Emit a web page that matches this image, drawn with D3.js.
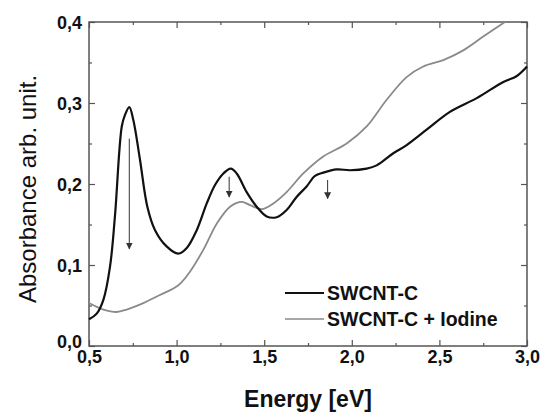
<!DOCTYPE html>
<html>
<head>
<meta charset="utf-8">
<script src="https://cdn.jsdelivr.net/npm/d3@7"></script>
<style>
  body { margin: 0; background: #fff; }
  svg { font-family: "Liberation Sans", Arial, sans-serif; }
</style>
</head>
<body>
<script>
const width = 542,
    height = 412;

// energy (eV) / absorbance
const energyC = [0.5, 0.544, 0.582, 0.62, 0.648, 0.687, 0.705, 0.73, 0.753, 0.791, 0.833, 0.877, 0.943, 1.01, 1.058, 1.115, 1.172, 1.22, 1.267, 1.309, 1.343, 1.40, 1.457, 1.514, 1.571, 1.628, 1.685, 1.742, 1.79, 1.837, 1.914, 1.99, 2.085, 2.142, 2.237, 2.313, 2.427, 2.56, 2.713, 2.865, 2.94, 3.0];
const absC = [0.033, 0.040, 0.057, 0.098, 0.160, 0.271, 0.285, 0.295, 0.279, 0.230, 0.172, 0.143, 0.123, 0.114, 0.121, 0.143, 0.176, 0.199, 0.213, 0.219, 0.213, 0.190, 0.172, 0.160, 0.159, 0.168, 0.184, 0.197, 0.210, 0.214, 0.218, 0.217, 0.219, 0.223, 0.238, 0.248, 0.267, 0.289, 0.306, 0.326, 0.333, 0.345];

const energyI = [0.5, 0.582, 0.658, 0.715, 0.81, 0.905, 1.01, 1.077, 1.153, 1.229, 1.305, 1.372, 1.419, 1.486, 1.552, 1.628, 1.723, 1.837, 1.971, 2.085, 2.199, 2.313, 2.408, 2.522, 2.636, 2.75, 2.874];
const absI = [0.053, 0.045, 0.042, 0.045, 0.053, 0.063, 0.075, 0.092, 0.119, 0.151, 0.172, 0.178, 0.174, 0.169, 0.176, 0.190, 0.213, 0.234, 0.250, 0.271, 0.304, 0.332, 0.345, 0.353, 0.365, 0.382, 0.400];

// arrows marking the quenched transitions: [energy, from, to]
const arrows = [[0.73, 0.256, 0.120], [1.30, 0.209, 0.184], [1.862, 0.205, 0.182]];

const seriesNames = ["SWCNT-C", "SWCNT-C + Iodine"];
const xMajor = [0.5, 1.0, 1.5, 2.0, 2.5, 3.0];
const xMinor = [0.75, 1.25, 1.75, 2.25, 2.75];
const yMajor = [0.0, 0.1, 0.2, 0.3, 0.4];
const yMinor = [0.05, 0.15, 0.25, 0.35];

const pLeft = 89, pRight = 527, pTop = 22, pBottom = 346;

const svg = d3.select('body').append('svg')
    .attr('width', width)
    .attr('height', height);

const x = d3.scaleLinear().domain([0.5, 3.0]).range([pLeft, pRight]);
const y = d3.scaleLinear().domain([0, 0.4]).range([pBottom, pTop]);

const comma = d => d3.format(".1f")(d).replace(".", ",");

const defs = svg.append("defs");
defs.append("marker").attr("id", "head")
    .attr("viewBox", "0 0 10 10").attr("refX", 9).attr("refY", 5)
    .attr("markerWidth", 7).attr("markerHeight", 9).attr("markerUnits", "userSpaceOnUse")
    .attr("orient", "auto")
  .append("path").attr("d", "M0,0L10,5L0,10Z").attr("fill", "#333");

// ticks (inward, mirrored)
function ticks(axis, vals, size, tr, fmt) {
  const g = svg.append("g").attr("transform", tr)
      .call(axis.tickValues(vals).tickSize(size).tickFormat(fmt || (() => "")));
  g.select(".domain").remove();
  g.selectAll(".tick line").attr("stroke", "#555").attr("stroke-width", 1.2);
  return g;
}
const bx = ticks(d3.axisBottom(x), xMajor, -6, `translate(0,${pBottom})`, comma);
ticks(d3.axisBottom(x), xMinor, -3, `translate(0,${pBottom})`);
ticks(d3.axisTop(x), xMajor, -6, `translate(0,${pTop})`);
ticks(d3.axisTop(x), xMinor, -3, `translate(0,${pTop})`);
const ly = ticks(d3.axisLeft(y), yMajor, -6, `translate(${pLeft},0)`, comma);
ticks(d3.axisLeft(y), yMinor, -3, `translate(${pLeft},0)`);
ticks(d3.axisRight(y), yMajor, -6, `translate(${pRight},0)`);
ticks(d3.axisRight(y), yMinor, -3, `translate(${pRight},0)`);

bx.selectAll("text").attr("font-size", 18).attr("font-weight", "bold").attr("fill", "#111")
    .attr("dy", "0").attr("y", 17);
ly.selectAll("text").attr("font-size", 18).attr("font-weight", "bold").attr("fill", "#111")
    .attr("x", -7).attr("dy", "0.35em");
ly.selectAll(".tick").filter(d => d === 0).select("text").attr("dy", "0.1em");

svg.append("rect").attr("x", pLeft).attr("y", pTop)
    .attr("width", pRight - pLeft).attr("height", pBottom - pTop)
    .attr("fill", "none").attr("stroke", "#555").attr("stroke-width", 1.5);

const line = d3.line()
    .x(d => x(d[0]))
    .y(d => y(d[1]))
    .curve(d3.curveCatmullRom.alpha(0.5));

svg.append("path").datum(d3.zip(energyI, absI))
    .attr("d", line).attr("fill", "none")
    .attr("stroke", "#8a8a8a").attr("stroke-width", 1.8);

svg.append("path").datum(d3.zip(energyC, absC))
    .attr("d", line).attr("fill", "none")
    .attr("stroke", "#111").attr("stroke-width", 2.2);

svg.append("g").selectAll("line").data(arrows).enter().append("line")
    .attr("x1", d => x(d[0])).attr("x2", d => x(d[0]))
    .attr("y1", d => y(d[1])).attr("y2", d => y(d[2]))
    .attr("stroke", "#333").attr("stroke-width", 1)
    .attr("marker-end", "url(#head)");

// legend
const legend = svg.append("g").attr("transform", "translate(285,293)");
seriesNames.forEach((name, i) => {
  const g = legend.append("g").attr("transform", `translate(0,${i * 26})`);
  g.append("line").attr("x1", 0).attr("x2", 39)
      .attr("stroke", i ? "#8a8a8a" : "#111").attr("stroke-width", i ? 1.5 : 2.2);
  g.append("text").attr("x", 42).attr("dy", "0.36em")
      .attr("font-size", 19.5).attr("font-weight", "bold").attr("fill", "#111").text(name);
});

svg.append("text").attr("x", (pLeft + pRight) / 2).attr("y", 407)
    .attr("text-anchor", "middle").attr("font-size", 23).attr("font-weight", "bold")
    .attr("fill", "#111").text("Energy [eV]");

svg.append("text").attr("transform", "translate(36,189) rotate(-90)")
    .attr("text-anchor", "middle").attr("font-size", 24)
    .attr("fill", "#111").text("Absorbance arb. unit.");
</script>
</body>
</html>
